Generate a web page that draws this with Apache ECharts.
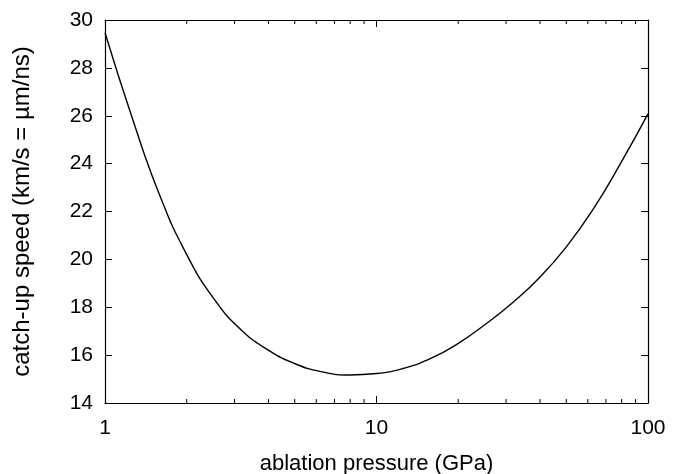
<!DOCTYPE html>
<html>
<head>
<meta charset="utf-8">
<script src="https://cdn.jsdelivr.net/npm/echarts@6/dist/echarts.min.js"></script>
<style>
html,body{margin:0;padding:0;background:#fff;}
#chart{width:686px;height:474px;}
</style>
</head>
<body>
<div id="chart"></div>
<script>
// ablation pressure (GPa)
const pressure = [1, 1.259, 1.585, 1.995, 2.512, 3.162, 3.981, 5.012, 6.31, 7.943, 10, 12.59, 15.85, 19.95, 25.12, 31.62, 39.81, 50.12, 63.1, 79.43, 100];
// catch-up speed (km/s)
const speed = [29.47, 25.92, 22.72, 20.22, 18.37, 17.07, 16.22, 15.64, 15.30, 15.17, 15.23, 15.45, 15.86, 16.48, 17.28, 18.18, 19.23, 20.53, 22.13, 24.03, 26.08];
// minor tick values on the log axis
const minorTicks = [2, 3, 4, 5, 6, 7, 8, 9, 20, 30, 40, 50, 60, 70, 80, 90];
const yMin = 14, yMax = 30, yStep = 2;
const xMin = 1, xMax = 100;

const FONT = 'Liberation Sans, Arial, Helvetica, sans-serif';
const chart = echarts.init(document.getElementById('chart'), null, {renderer: 'canvas'});

const tickStyle = {show: true, inside: true, length: 7, lineStyle: {color: '#000', width: 1}};
const axisLine = {show: true, onZero: false, lineStyle: {color: '#000', width: 1.2}};

const option = {
  backgroundColor: '#fff',
  animation: false,
  grid: {left: 105, right: 38, top: 20, bottom: 71, containLabel: false, outerBoundsMode: 'none'},
  xAxis: [
    {
      type: 'log', logBase: 10, min: xMin, max: xMax, position: 'bottom',
      axisLine: axisLine, axisTick: tickStyle, splitLine: {show: false}, minorTick: {show: false},
      axisLabel: {color: '#000', fontSize: 21, fontFamily: FONT, margin: 15},
      name: 'ablation pressure (GPa)', nameLocation: 'middle', nameGap: 50,
      nameTextStyle: {color: '#000', fontSize: 22, fontFamily: FONT}
    },
    {
      type: 'log', logBase: 10, min: xMin, max: xMax, position: 'top',
      axisLine: axisLine, axisTick: tickStyle, splitLine: {show: false},
      axisLabel: {show: false}
    }
  ],
  yAxis: [
    {
      type: 'value', min: yMin, max: yMax, interval: yStep, position: 'left',
      axisLine: axisLine, axisTick: tickStyle, splitLine: {show: false},
      axisLabel: {color: '#000', fontSize: 21, fontFamily: FONT, margin: 12},
      name: 'catch-up speed (km/s = µm/ns)', nameLocation: 'middle', nameGap: 71, nameRotate: 90,
      nameTextStyle: {color: '#000', fontSize: 24, fontFamily: FONT}
    },
    {
      type: 'value', min: yMin, max: yMax, interval: yStep, position: 'right',
      axisLine: axisLine, axisTick: tickStyle, splitLine: {show: false},
      axisLabel: {show: false}
    }
  ],
  series: [
    {
      type: 'line', xAxisIndex: 0, yAxisIndex: 0,
      data: pressure.map((p, i) => [p, speed[i]]),
      showSymbol: false, smooth: 0.5,
      lineStyle: {color: '#000', width: 1.4}
    },
    {
      type: 'custom', xAxisIndex: 0, yAxisIndex: 0, clip: false, silent: true,
      data: minorTicks.map(v => [v, yMin]),
      renderItem: function (params, api) {
        const v = api.value(0);
        const b = api.coord([v, yMin]);
        const t = api.coord([v, yMax]);
        const style = {stroke: '#000', lineWidth: 1};
        return {
          type: 'group',
          children: [
            {type: 'line', shape: {x1: b[0], y1: b[1], x2: b[0], y2: b[1] - 4}, style: style},
            {type: 'line', shape: {x1: t[0], y1: t[1], x2: t[0], y2: t[1] + 4}, style: style}
          ]
        };
      }
    }
  ]
};
chart.setOption(option);
</script>
</body>
</html>
